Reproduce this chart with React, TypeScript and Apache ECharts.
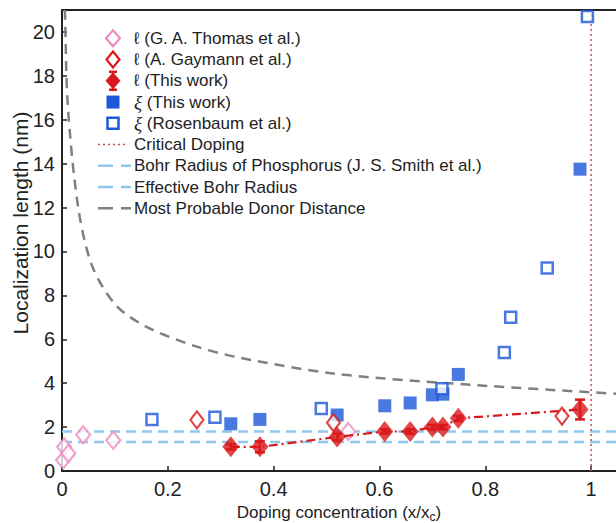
import React, { useEffect, useRef } from "react";
import * as echarts from "echarts";

const FONT = "'Liberation Sans', Arial, sans-serif";

const thomasL = [[0.002, 0.5], [0.004, 1.1], [0.012, 0.8], [0.04, 1.65], [0.097, 1.4], [0.541, 1.8]];
const gaymannL = [[0.255, 2.33], [0.513, 2.2], [0.945, 2.5]];
const thisWorkL = [[0.319, 1.1], [0.374, 1.1], [0.52, 1.55], [0.61, 1.8], [0.658, 1.8], [0.70, 2.0], [0.72, 2.0], [0.749, 2.4], [0.979, 2.8]];
const thisWorkLErr = [0.12, 0.25, 0.15, 0.1, 0.1, 0.1, 0.1, 0.12, 0.45];
const thisWorkXi = [[0.319, 2.15], [0.374, 2.35], [0.52, 2.55], [0.61, 2.97], [0.658, 3.1], [0.70, 3.47], [0.72, 3.5], [0.749, 4.4], [0.979, 13.75]];
const rosenbaumXi = [[0.17, 2.35], [0.289, 2.45], [0.49, 2.85], [0.718, 3.75], [0.836, 5.4], [0.848, 7.0], [0.917, 9.25], [0.993, 20.7]];
const criticalDoping = [[1, 0], [1, 21]];
const bohrP = [[0, 1.8], [1.047, 1.8]];
const bohrEff = [[0, 1.32], [1.047, 1.32]];
const donorDistance = [[0.0052, 21.0], [0.0057, 20.8], [0.0108, 16.7], [0.03, 12.1], [0.056, 9.4], [0.1, 7.6], [0.157, 6.6], [0.25, 5.7], [0.336, 5.16], [0.516, 4.43], [0.771, 3.93], [1.047, 3.52]];

const xTicks = [0, 0.2, 0.4, 0.6, 0.8, 1];
const yTicks = [0, 2, 4, 6, 8, 10, 12, 14, 16, 18, 20];

const legendNames = [
  "ℓ (G. A. Thomas et al.)",
  "ℓ (A. Gaymann et al.)",
  "ℓ (This work)",
  "ξ (This work)",
  "ξ (Rosenbaum et al.)",
  "Critical Doping",
  "Bohr Radius of Phosphorus (J. S. Smith et al.)",
  "Effective Bohr Radius",
  "Most Probable Donor Distance",
];
const legendKinds = ["openDiamondPink", "openDiamondRed", "filledDiamondErr", "filledSquare", "openSquare", "dotted", "dashedBlue", "dashedBlue", "dashedGray"];

const PINK = "#ee8cc0";
const RED = "#d9191c";
const BLUE = "#1c58d8";
const LIGHTBLUE = "#90c8ee";
const GRAY = "#808080";
const DOTRED = "#c4504f";

function legendIcon(kind: string, cx: number, cy: number): any[] {
  const diamond = (w: number, h: number) => [[cx, cy - h / 2], [cx + w / 2, cy], [cx, cy + h / 2], [cx - w / 2, cy]];
  switch (kind) {
    case "openDiamondPink":
      return [{ type: "polygon", shape: { points: diamond(14, 16) }, style: { fill: "#fff", stroke: PINK, lineWidth: 2.2 } }];
    case "openDiamondRed":
      return [{ type: "polygon", shape: { points: diamond(13, 16) }, style: { fill: "#fff", stroke: RED, lineWidth: 2.2 } }];
    case "filledDiamondErr":
      return [
        { type: "line", shape: { x1: cx, y1: cy - 9, x2: cx, y2: cy + 9 }, style: { stroke: RED, lineWidth: 2.5 } },
        { type: "line", shape: { x1: cx - 4, y1: cy - 9, x2: cx + 4, y2: cy - 9 }, style: { stroke: RED, lineWidth: 2.5 } },
        { type: "line", shape: { x1: cx - 4, y1: cy + 9, x2: cx + 4, y2: cy + 9 }, style: { stroke: RED, lineWidth: 2.5 } },
        { type: "polygon", shape: { points: diamond(15, 17) }, style: { fill: RED } },
      ];
    case "filledSquare":
      return [{ type: "rect", shape: { x: cx - 6.5, y: cy - 6.5, width: 13, height: 13 }, style: { fill: BLUE } }];
    case "openSquare":
      return [{ type: "rect", shape: { x: cx - 5.5, y: cy - 5.5, width: 11, height: 11 }, style: { fill: "#fff", stroke: BLUE, lineWidth: 2.5 } }];
    case "dotted":
      return [{ type: "line", shape: { x1: 98, y1: cy, x2: 128, y2: cy }, style: { stroke: DOTRED, lineWidth: 1.5, lineDash: [2, 3] } }];
    case "dashedBlue":
      return [{ type: "line", shape: { x1: 98, y1: cy, x2: 131, y2: cy }, style: { stroke: LIGHTBLUE, lineWidth: 2.5, lineDash: [15, 8] } }];
    default:
      return [{ type: "line", shape: { x1: 98, y1: cy, x2: 131, y2: cy }, style: { stroke: GRAY, lineWidth: 2.5, lineDash: [15, 8] } }];
  }
}

export default function App() {
  const ref = useRef<HTMLDivElement>(null);
  useEffect(() => {
    const chart = echarts.init(ref.current!, null, { renderer: "svg" });
    const errData = thisWorkL.map((p, i) => [p[0], p[1] - thisWorkLErr[i], p[1] + thisWorkLErr[i]]);

    const legendGraphics: any[] = [];
    legendNames.forEach((name, i) => {
      const cy = 38.3 + 21.25 * i;
      legendIcon(legendKinds[i], 113, cy).forEach((g) => legendGraphics.push(g));
      const isXi = name.startsWith("ξ");
      legendGraphics.push({
        type: "text",
        x: 134,
        y: cy,
        style: {
          text: isXi ? "{i|ξ}" + name.slice(1) : name,
          fontFamily: FONT,
          fontSize: 17,
          fill: "#222",
          verticalAlign: "middle",
          align: "left",
          rich: { i: { fontStyle: "italic", fontSize: 19, fontFamily: "'Liberation Serif', 'DejaVu Serif', serif", fill: "#222" } },
        },
      });
    });
    legendGraphics.push({
      type: "text",
      x: 20,
      y: 223,
      rotation: Math.PI / 2,
      style: { text: "Localization length (nm)", fontFamily: FONT, fontSize: 21, fill: "#222", align: "center", verticalAlign: "middle" },
    });

    chart.setOption({
      animation: false,
      textStyle: { fontFamily: FONT },
      grid: { left: 62, top: 10, right: 0, bottom: 52, containLabel: false, outerBoundsMode: "none" },
      graphic: legendGraphics,
      xAxis: [
        {
          type: "value",
          min: 0,
          max: 1.047,
          interval: 0.2,
          name: "Doping concentration (x/x{s|c})",
          nameLocation: "middle",
          nameGap: 30,
          nameTextStyle: {
            fontSize: 17,
            color: "#222",
            fontFamily: FONT,
            rich: { s: { fontSize: 12, fontFamily: FONT, verticalAlign: "bottom", padding: [9, 0, 0, 0], color: "#222" } },
          },
          axisLine: { show: true, onZero: false, lineStyle: { color: "#222", width: 2 } },
          axisTick: { inside: true, length: 5, lineStyle: { color: "#222", width: 1.5 } },
          axisLabel: {
            fontSize: 20,
            color: "#222",
            margin: 8,
            showMaxLabel: false,
            formatter: (v: number) => {
              const t = xTicks.find((x) => Math.abs(x - v) < 1e-6);
              return t === undefined ? "" : String(t);
            },
          },
          splitLine: { show: false },
        },
        {
          type: "value",
          position: "top",
          min: 0,
          max: 1.047,
          axisLine: { show: true, onZero: false, lineStyle: { color: "#222", width: 2 } },
          axisTick: { show: false },
          axisLabel: { show: false },
          splitLine: { show: false },
        },
      ],
      yAxis: {
        type: "value",
        min: 0,
        max: 21,
        interval: 2,
        axisLine: { show: true, onZero: false, lineStyle: { color: "#222", width: 2 } },
        axisTick: { inside: true, length: 5, lineStyle: { color: "#222", width: 1.5 } },
        axisLabel: {
          fontSize: 20,
          color: "#222",
          margin: 7,
          showMaxLabel: false,
          formatter: (v: number) => (yTicks.includes(v) ? String(v) : ""),
        },
        splitLine: { show: false },
      },
      series: [
        {
          name: legendNames[7],
          type: "line",
          data: bohrEff,
          symbol: "none",
          lineStyle: { color: LIGHTBLUE, width: 2.5, type: [10, 6] },
          z: 1,
        },
        {
          name: legendNames[6],
          type: "line",
          data: bohrP,
          symbol: "none",
          lineStyle: { color: LIGHTBLUE, width: 2.5, type: [10, 6] },
          z: 1,
        },
        {
          name: legendNames[8],
          type: "line",
          data: donorDistance,
          symbol: "none",
          smooth: 0.3,
          lineStyle: { color: GRAY, width: 2.5, type: [10, 7] },
          z: 1,
        },
        {
          name: legendNames[5],
          type: "line",
          data: criticalDoping,
          symbol: "none",
          lineStyle: { color: DOTRED, width: 1.5, type: [2, 3] },
          z: 1,
        },
        {
          name: legendNames[4],
          type: "scatter",
          data: rosenbaumXi,
          symbol: "rect",
          symbolSize: 11,
          itemStyle: { color: "#fff", borderColor: BLUE, borderWidth: 2.5 },
          z: 3,
        },
        {
          name: legendNames[3],
          type: "scatter",
          data: thisWorkXi,
          symbol: "rect",
          symbolSize: 13,
          itemStyle: { color: BLUE },
          z: 2,
        },
        {
          name: legendNames[0],
          type: "scatter",
          data: thomasL,
          symbol: "diamond",
          symbolSize: [14, 17],
          itemStyle: { color: "#fff", borderColor: PINK, borderWidth: 2.2 },
          z: 3,
        },
        {
          name: legendNames[1],
          type: "scatter",
          data: gaymannL,
          symbol: "diamond",
          symbolSize: [13, 17],
          itemStyle: { color: "#fff", borderColor: RED, borderWidth: 2.2 },
          z: 3,
        },
        {
          name: "fitline",
          type: "line",
          data: thisWorkL,
          symbol: "none",
          lineStyle: { color: RED, width: 2.2, type: [9, 4, 2, 4] },
          z: 4,
        },
        {
          name: "errbars",
          type: "custom",
          data: errData,
          renderItem: (params: any, api: any) => {
            const x = api.value(0);
            const lo = api.coord([x, api.value(1)]);
            const hi = api.coord([x, api.value(2)]);
            const w = 5;
            const st = { stroke: RED, lineWidth: 2.5 };
            return {
              type: "group",
              children: [
                { type: "line", shape: { x1: lo[0], y1: lo[1], x2: hi[0], y2: hi[1] }, style: st },
                { type: "line", shape: { x1: lo[0] - w, y1: lo[1], x2: lo[0] + w, y2: lo[1] }, style: st },
                { type: "line", shape: { x1: hi[0] - w, y1: hi[1], x2: hi[0] + w, y2: hi[1] }, style: st },
              ],
            };
          },
          z: 5,
        },
        {
          name: legendNames[2],
          type: "scatter",
          data: thisWorkL,
          symbol: "diamond",
          symbolSize: [17, 21],
          itemStyle: { color: RED },
          z: 6,
        },
      ],
    });
    return () => chart.dispose();
  }, []);
  return (
    <div
      ref={ref}
      style={{ position: "absolute", left: 0, top: 0, width: 616, height: 523, background: "#fff" }}
    />
  );
}
